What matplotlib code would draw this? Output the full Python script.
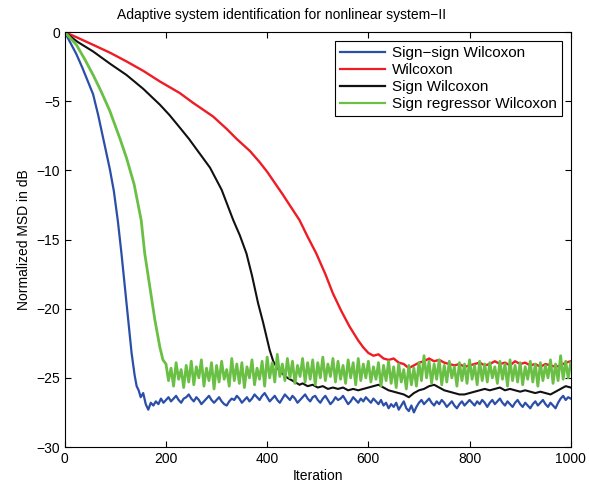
import matplotlib
matplotlib.use("Agg")
import matplotlib.pyplot as plt

plt.rcParams['font.family'] = ['Liberation Sans', 'DejaVu Sans']

# Sign-sign Wilcoxon: fast drop, then noisy floor (floor sampled every 5 iterations from 175)
blue_drop_x = [0, 10, 23, 35, 45, 56, 66, 76, 89, 97, 105, 112, 122, 132, 138, 142, 146, 150, 155,
               160, 165, 170]
blue_drop_y = [0, -0.7, -1.6, -2.6, -3.5, -4.5, -6.0, -7.7, -9.9, -11.5, -13.7, -16.0, -19.6, -23.2,
               -24.8, -25.6, -25.9, -26.4, -26.1, -26.9, -27.3, -26.8]
blue_floor = [-27.0, -26.7, -26.9, -26.5, -26.8,
              -26.6, -26.4, -26.7, -26.5, -26.3, -26.6, -26.8, -26.5, -26.4, -26.2,
              -26.5, -26.7, -26.4, -26.6, -26.9, -26.7, -26.5, -26.3, -26.6, -26.8,
              -26.6, -26.4, -26.7, -26.9, -27.0, -26.7, -26.5, -26.6, -26.3, -26.5,
              -26.8, -26.6, -26.4, -26.7, -26.5, -26.2, -26.4, -26.6, -26.3, -26.1,
              -26.4, -26.7, -26.5, -26.3, -26.6, -26.8, -26.5, -26.2, -26.4, -26.6,
              -26.3, -26.5, -26.8, -26.6, -26.4, -26.2, -26.5, -26.7, -26.4, -26.3,
              -26.6, -26.8, -26.5, -26.3, -26.6, -26.9, -26.7, -26.4, -26.6, -26.5,
              -26.3, -26.6, -26.9, -26.7, -26.4, -26.6, -26.8, -26.5, -26.7, -26.4,
              -26.6, -26.8, -26.5, -26.7, -26.9, -26.6, -27.0, -26.8, -27.2, -26.9,
              -27.1, -26.8, -27.3, -27.0, -26.7, -27.2, -27.4, -27.0, -27.5, -27.1,
              -26.8, -26.6, -26.9, -26.7, -26.5, -26.8, -27.0, -26.7, -26.9, -26.6,
              -26.8, -27.1, -26.9, -26.7, -27.0, -27.2, -26.9, -26.7, -27.0, -26.8,
              -26.6, -26.8, -27.0, -26.7, -26.9, -26.6, -26.8, -27.1, -26.8, -26.6,
              -26.9, -26.7, -26.5, -26.8, -27.0, -26.7, -26.9, -27.1, -26.8, -26.6,
              -26.9, -27.1, -26.8, -27.0, -27.2, -26.9, -26.7, -27.0, -26.8, -26.6,
              -26.9, -27.1, -26.8, -27.0, -27.2, -26.8, -26.5, -26.3, -26.6, -26.4,
              -26.5]

# Wilcoxon
red_x = [0, 25, 56, 90, 122, 155, 188, 227, 253, 293, 320, 339, 366, 385, 400, 430, 464, 480, 497,
         515, 530, 547, 563, 580, 590, 600, 610, 620, 630, 640, 650, 660, 670, 680, 690, 700, 710,
         720, 730, 740, 750, 760, 770, 780, 790, 800, 810, 820, 830, 840, 850, 860, 870, 880, 890,
         900, 910, 920, 930, 940, 950, 960, 970, 980, 990, 1000]
red_y = [0, -0.4, -0.92, -1.5, -2.12, -2.8, -3.57, -4.4, -5.1, -6.1, -7.0, -7.7, -8.6, -9.4, -10.1,
         -11.7, -13.6, -14.8, -16.0, -17.5, -18.9, -20.2, -21.3, -22.3, -22.8, -23.2, -23.4, -23.3,
         -23.6, -23.7, -23.6, -23.9, -24.0, -24.3, -24.1, -23.9, -23.8, -23.6, -23.8, -23.7, -23.9,
         -24.0, -24.1, -24.0, -24.2, -24.1, -24.0, -23.9, -24.1, -24.0, -23.8, -24.0, -23.9, -24.1,
         -23.8, -24.0, -23.9, -24.1, -24.0, -24.2, -24.0, -24.1, -24.2, -24.1, -23.9, -23.8]

# Sign Wilcoxon
black_x = [0, 25, 56, 90, 122, 155, 188, 207, 225, 245, 265, 287, 310, 333, 346, 359, 370, 382, 392,
           405, 412, 420, 430, 440, 450, 464, 470, 480, 490, 500, 510, 520, 530, 540, 550, 560, 570,
           580, 590, 600, 610, 620, 630, 640, 650, 660, 670, 680, 690, 700, 710, 720, 730, 740, 750,
           760, 770, 780, 790, 800, 810, 820, 830, 840, 850, 860, 870, 880, 890, 900, 910, 920, 930,
           940, 950, 960, 970, 980, 990, 1000]
black_y = [0, -0.7, -1.4, -2.3, -3.1, -4.1, -5.25, -6.0, -6.8, -7.7, -8.7, -9.8, -11.4, -13.6, -14.7,
           -16.0, -17.6, -19.6, -21.0, -23.0, -23.8, -24.3, -24.7, -25.0, -25.2, -25.5, -25.4, -25.6,
           -25.5, -25.7, -25.6, -25.8, -25.7, -25.8, -25.7, -25.9, -25.8, -25.9, -25.8, -25.7, -25.6,
           -25.5, -25.7, -25.9, -26.0, -26.1, -26.2, -26.4, -26.1, -25.9, -25.8, -25.6, -25.5, -25.7,
           -25.9, -26.0, -26.1, -26.2, -26.2, -26.1, -26.0, -25.9, -25.8, -25.9, -25.8, -25.7, -25.9,
           -25.8, -25.9, -26.0, -25.9, -26.0, -26.1, -26.0, -26.1, -26.2, -26.0, -25.8, -25.6, -25.7]

# Sign regressor Wilcoxon: drop, then very noisy floor (sampled every 5 iterations from 200)
green_drop_x = [0, 10, 23, 40, 56, 72, 89, 109, 122, 137, 151, 158, 168, 178, 188, 194]
green_drop_y = [0, -0.4, -0.92, -2.0, -3.1, -4.3, -5.7, -7.7, -9.1, -11.0, -13.6, -16.0, -18.4,
                -20.8, -22.8, -23.7]
green_floor = [-24.0, -25.2, -24.3, -25.6, -23.9, -25.1, -24.4, -25.7, -24.1, -25.3,
               -23.8, -25.5, -24.2, -25.0, -23.7, -25.6, -24.3, -25.2, -23.9, -25.8,
               -24.1, -25.3, -23.8, -25.1, -24.4, -25.6, -23.6, -25.2, -24.0, -25.4,
               -23.9, -25.7, -24.2, -25.0, -23.7, -25.5, -24.3, -25.1, -23.8, -25.6,
               -23.5, -25.0, -23.9, -25.3, -23.3, -24.9, -24.0, -25.2, -23.6, -25.0,
               -23.8, -25.4, -24.1, -24.9, -23.6, -25.3, -23.9, -25.1, -23.7, -25.5,
               -23.9, -25.0, -23.5, -25.2, -24.0, -24.9, -23.6, -25.3, -23.8, -25.1,
               -24.1, -25.4, -23.7, -25.0, -23.9, -25.5, -23.6, -25.2, -24.0, -25.0,
               -23.8, -25.3, -24.2, -25.1, -23.9, -25.6, -24.1, -25.2, -23.8, -25.4,
               -24.2, -25.7, -24.0, -25.3, -24.4, -25.8, -24.1, -25.5, -24.3, -25.6,
               -23.9, -25.2, -23.4, -25.0, -23.8, -25.4, -24.0, -25.1, -23.7, -25.5,
               -24.1, -25.3, -23.8, -25.0, -24.2, -25.6, -23.9, -25.2, -24.0, -25.4,
               -23.7, -25.1, -24.1, -25.5, -23.8, -25.2, -24.0, -25.3, -23.9, -25.0,
               -24.2, -25.4, -23.8, -25.1, -24.0, -25.6, -23.7, -25.2, -24.1, -25.3,
               -23.9, -25.5, -24.2, -25.1, -23.8, -25.3, -24.0, -25.6, -23.9, -25.2,
               -24.1, -25.0, -23.7, -25.4, -24.0, -25.2, -23.4, -25.1, -23.8, -25.0,
               -23.9]

blue_x = blue_drop_x + [175 + 5 * i for i in range(len(blue_floor))]
blue_y = blue_drop_y + blue_floor
green_x = green_drop_x + [200 + 5 * i for i in range(len(green_floor))]
green_y = green_drop_y + green_floor

fig = plt.figure(figsize=(5.89, 4.91), dpi=100)
ax = fig.add_axes([0.110, 0.0896, 0.859, 0.845])

ax.plot(blue_x, blue_y, color='#2b4ea8', lw=1.6, label='Sign\u2212sign Wilcoxon')
ax.plot(red_x, red_y, color='#ee1c25', lw=1.7, label='Wilcoxon')
ax.plot(black_x, black_y, color='#111111', lw=1.5, label='Sign Wilcoxon')
ax.plot(green_x, green_y, color='#6abf45', lw=2.0, label='Sign regressor Wilcoxon')

ax.set_xlim(0, 1000)
ax.set_ylim(-30, 0)
ax.set_xticks(range(0, 1001, 200))
ax.set_yticks(range(-30, 1, 5))
ax.tick_params(direction='in', top=True, right=True, labelsize=10, length=4)
ax.set_xlabel('Iteration', fontsize=10, labelpad=2)
ax.set_ylabel('Normalized MSD in dB', fontsize=10)
fig.text(282 / 589, 1 - 15 / 491, 'Adaptive system identification for nonlinear system\u2212II',
         fontsize=10, ha='center', va='center')

leg = ax.legend(loc='upper right', fontsize=11, fancybox=False, edgecolor='black',
                framealpha=1, handlelength=2.95, handletextpad=0.45, borderpad=0.35,
                labelspacing=0.2, borderaxespad=0.55)
leg.get_frame().set_linewidth(0.8)
for line in leg.get_lines():
    line.set_linewidth(1.6)

plt.savefig('out.png', dpi=100)
